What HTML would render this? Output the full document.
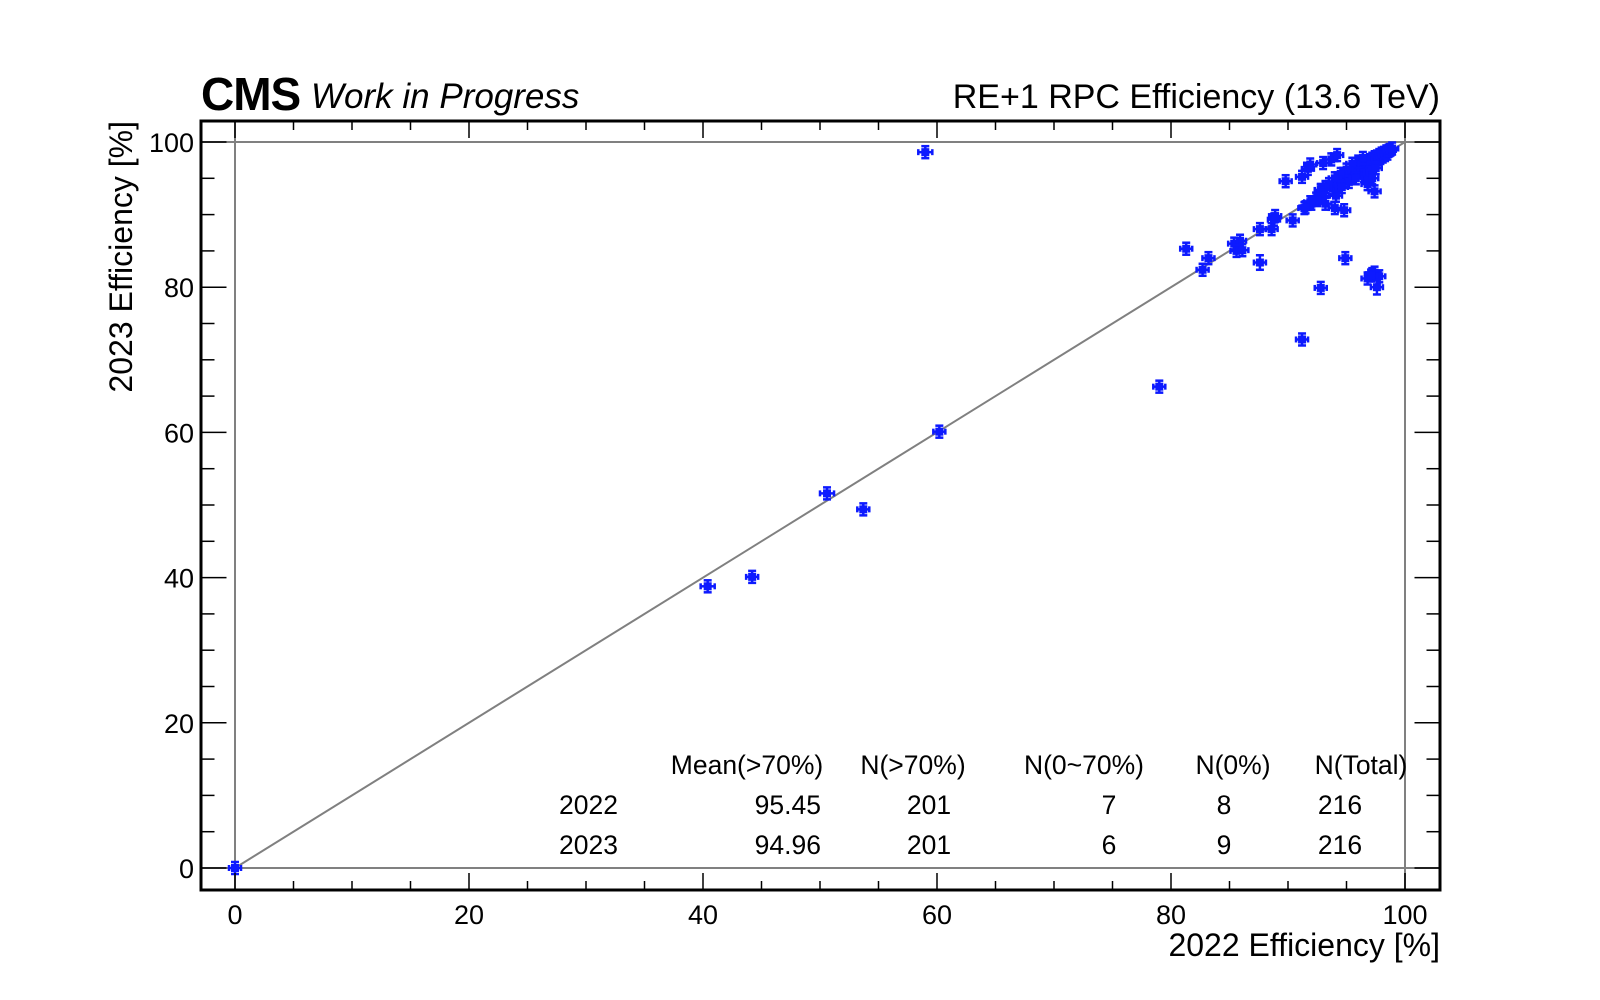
<!DOCTYPE html>
<html><head><meta charset="utf-8"><style>
html,body{margin:0;padding:0;background:#fff;}
svg{display:block;font-family:"Liberation Sans",sans-serif;}
</style></head><body>
<svg id="chart" width="1600" height="1000" viewBox="0 0 1600 1000" xmlns="http://www.w3.org/2000/svg">
<rect width="1600" height="1000" fill="#fff"/>
<g id="grid"></g>
<g id="marks"></g>
<g id="axes"></g>
<text x="201" y="110" font-size="46" font-weight="bold" letter-spacing="-1">CMS</text>
<text x="311" y="108" font-size="35" font-style="italic">Work in Progress</text>
<text x="1440" y="108" font-size="34" text-anchor="end">RE+1 RPC Efficiency (13.6 TeV)</text>
<text x="1440" y="956" font-size="32" text-anchor="end">2022 Efficiency [%]</text>
<text transform="translate(132,121) rotate(-90)" font-size="32" text-anchor="end">2023 Efficiency [%]</text>
<g font-size="26.5">
<text x="747" y="774" text-anchor="middle">Mean(&gt;70%)</text>
<text x="913" y="774" text-anchor="middle">N(&gt;70%)</text>
<text x="1084" y="774" text-anchor="middle">N(0~70%)</text>
<text x="1233" y="774" text-anchor="middle">N(0%)</text>
<text x="1361" y="774" text-anchor="middle">N(Total)</text>
<text x="559" y="814">2022</text>
<text x="821" y="814" text-anchor="end">95.45</text>
<text x="929" y="814" text-anchor="middle">201</text>
<text x="1109" y="814" text-anchor="middle">7</text>
<text x="1224" y="814" text-anchor="middle">8</text>
<text x="1340" y="814" text-anchor="middle">216</text>
<text x="559" y="854">2023</text>
<text x="821" y="854" text-anchor="end">94.96</text>
<text x="929" y="854" text-anchor="middle">201</text>
<text x="1109" y="854" text-anchor="middle">6</text>
<text x="1224" y="854" text-anchor="middle">9</text>
<text x="1340" y="854" text-anchor="middle">216</text>
</g>
</svg>
<script>
const eff2022 = [0,59,60.2,50.6,53.7,40.4,44.2,79,91.2,92.8,81.3,82.7,83.2,85.4,85.9,85.6,86.1,87.6,87.6,88.6,88.8,88.9,90.4,89.8,94.9,96.8,97.2,97.4,97.6,97.8,97.1,91.2,91.7,91.9,93,93.7,94.2,91.4,91.9,92.4,92.8,93.2,94,94.8,94.1,93.8,94.3,
94.5,94.8,95.0,95.2,95.4,95.5,95.7,95.8,96.0,96.1,96.2,96.3,96.5,96.6,96.7,96.8,96.9,97.0,97.1,97.2,97.3,97.4,97.5,97.6,97.7,97.8,97.9,98.0,98.1,98.2,98.3,98.4,98.5,98.6,98.7,98.9,96.0,96.4,95.5,95.0,94.5,94.0,93.5,93.2,92.8,93.0,92.5,92.0,91.5,96.5,97.0,97.5,96.8,97.2,97.4,95.2,95.8,94.6];
const eff2023 = [0,98.6,60.1,51.6,49.4,38.8,40.1,66.3,72.8,79.9,85.3,82.4,84,86,86.4,85,85.1,83.4,88,88,89.3,89.8,89.2,94.6,84,81.2,81.8,82,80,81.5,81.6,95.2,96.3,96.9,97.1,97.6,98.2,90.9,91.7,92.2,93.4,91.5,90.9,90.6,92.6,93.6,94.1,
94.6,95.2,95.0,95.6,95.3,96.0,95.5,96.3,95.8,96.5,96.0,96.8,96.3,97.0,96.5,97.3,96.7,97.5,97.0,97.7,97.2,97.9,97.4,98.0,97.6,98.2,97.8,98.4,98.0,98.5,98.2,98.7,98.4,98.8,98.9,99.1,97.3,97.8,97.0,96.2,95.6,95.0,94.2,93.8,93.3,92.6,92.0,91.5,91.0,95.3,95.8,96.4,94.2,95.0,93.2,94.5,95.0,93.8];
const err2022 = [0.2,0.6,0.3,0.6,0.5,0.6,0.4,0.4,0.4,0.3,0.4,0.4,0.4,0.4,0.4,0.4,0.5,0.5,0.4,0.4,0.3,0.3,0.3,0.3,0.3,0.3,0.4,0.4,0.3,0.4,0.3];
const err2023 = [0.2,0.2,0.5,0.7,0.8,0.8,0.5,0.6,0.7,0.4,0.6,0.7,0.6,0.6,0.7,0.6,0.7,1.0,0.6,0.6,0.6,0.6,0.5,0.4,0.6,0.8,0.8,0.8,1.0,0.8,0.8];
const xTicks = [0,20,40,60,80,100];
const yTicks = [0,20,40,60,80,100];

const NS='http://www.w3.org/2000/svg';
const L=201,R=1440,T=121,B=890;
const X=v=>235+v*11.7;
const Y=v=>868-v*7.26;
function mk(tag,attrs,parent){const e=document.createElementNS(NS,tag);for(const k in attrs)e.setAttribute(k,attrs[k]);parent.appendChild(e);return e;}
const grid=document.getElementById('grid'),marks=document.getElementById('marks'),axes=document.getElementById('axes');
const gs={stroke:'#808080','stroke-width':2};
let g;
g=mk('line',Object.assign({x1:X(0),x2:X(0),y1:T,y2:B},gs),grid);


g=mk('line',Object.assign({x1:X(100),x2:X(100),y1:T,y2:B},gs),grid);


g=mk('line',Object.assign({x1:L,x2:R,y1:Y(0),y2:Y(0)},gs),grid);


g=mk('line',Object.assign({x1:L,x2:R,y1:Y(100),y2:Y(100)},gs),grid);


g=mk('line',Object.assign({x1:X(0),x2:X(100),y1:Y(0),y2:Y(100)},gs),grid);



for(let i=0;i<eff2022.length;i++){
  const cx=X(eff2022[i]),cy=Y(eff2023[i]);
  const ex=Math.max((err2022[i]!==undefined?err2022[i]:0.3)*11.7,6);
  const ey=Math.max((err2023[i]!==undefined?err2023[i]:0.4)*7.26,6);
  const p=mk('g',{fill:'#0d1aff',stroke:'#0d1aff'},marks);
  
  
  mk('line',{x1:cx-ex,x2:cx+ex,y1:cy,y2:cy,'stroke-width':2.5},p);
  mk('line',{x1:cx,x2:cx,y1:cy-ey,y2:cy+ey,'stroke-width':2.5},p);
  mk('line',{x1:cx-4,x2:cx+4,y1:cy-ey,y2:cy-ey,'stroke-width':2.5},p);
  mk('line',{x1:cx-4,x2:cx+4,y1:cy+ey,y2:cy+ey,'stroke-width':2.5},p);
  mk('line',{x1:cx-ex,x2:cx-ex,y1:cy-3,y2:cy+3,'stroke-width':2.5},p);
  mk('line',{x1:cx+ex,x2:cx+ex,y1:cy-3,y2:cy+3,'stroke-width':2.5},p);
  mk('rect',{x:cx-4,y:cy-4,width:8,height:8,stroke:'none'},p);
}

g=mk('rect',{x:L,y:T,width:R-L,height:B-T,fill:'none',stroke:'#000','stroke-width':3},axes);


for(let v=-0;v<=100;v+=5){
  const big=v%20===0,len=big?17:9;
  mk('line',{x1:X(v),x2:X(v),y1:B,y2:B-len,stroke:'#000','stroke-width':1.5},axes);
  mk('line',{x1:X(v),x2:X(v),y1:T,y2:T+len,stroke:'#000','stroke-width':1.5},axes);
  mk('line',{x1:L,x2:L+len*1.5,y1:Y(v),y2:Y(v),stroke:'#000','stroke-width':1.5},axes);
  mk('line',{x1:R,x2:R-len*1.5,y1:Y(v),y2:Y(v),stroke:'#000','stroke-width':1.5},axes);
}
xTicks.forEach(v=>{
  const t=mk('text',{x:X(v),y:924,'font-size':27,'text-anchor':'middle'},axes);
  t.textContent=v;
  
  
});
yTicks.forEach(v=>{
  const t=mk('text',{x:194,y:Y(v)+10,'font-size':27,'text-anchor':'end'},axes);
  t.textContent=v;
  
  
});
</script>
</body></html>
